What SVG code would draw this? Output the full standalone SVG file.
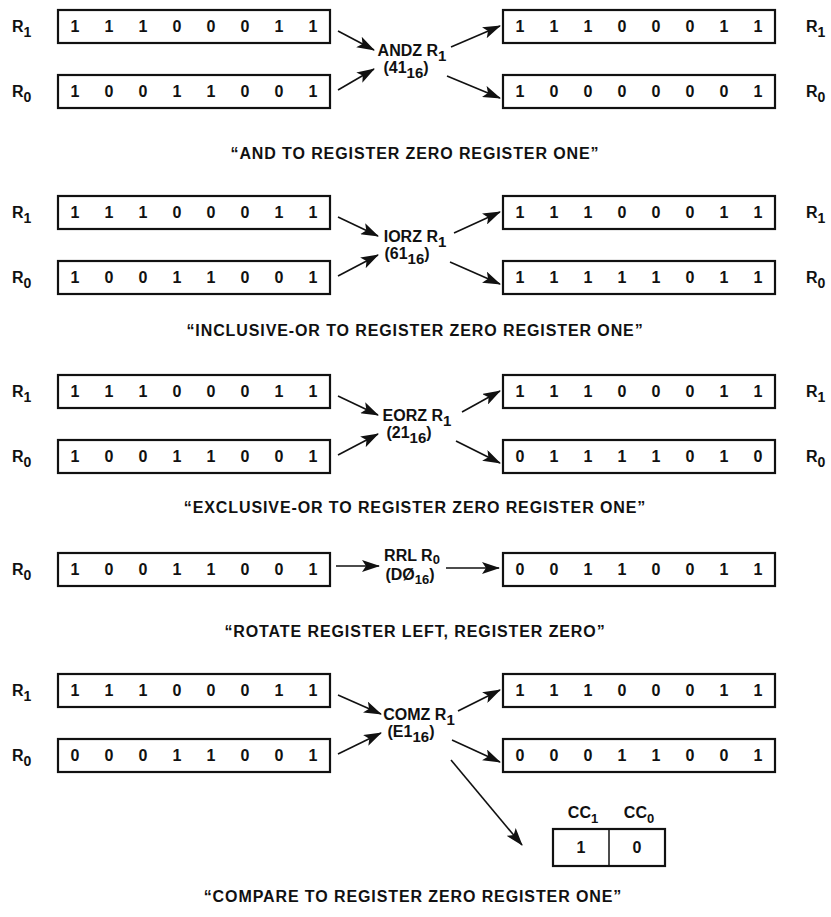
<svg xmlns="http://www.w3.org/2000/svg" width="831" height="917" viewBox="0 0 831 917">
<style>
text{font-family:"Liberation Sans",Arial,sans-serif;font-weight:bold;fill:#111}
.d{font-size:16px;text-anchor:middle}
.l{font-size:16px}
.c{font-size:16px;text-anchor:middle;letter-spacing:0.9px}
.op{font-size:16px;text-anchor:middle}
.box{fill:#fff;stroke:#111;stroke-width:2.2}
.ar{stroke:#111;stroke-width:1.6;fill:none;marker-end:url(#ah)}
</style>
<defs>
<marker id="ah" viewBox="0 0 18 12" refX="17" refY="6" markerWidth="18" markerHeight="12" markerUnits="userSpaceOnUse" orient="auto">
<path d="M0,0 L18,6 L0,12 L4,6 Z" fill="#111"/>
</marker>
</defs>
<rect width="831" height="917" fill="#fff"/>

<!-- Section 1 ANDZ -->
<g id="and" transform="translate(0,0)">
<g id="and-l-r1"><text class="l" x="12" y="32">R<tspan font-size="14" dy="5">1</tspan></text>
<rect class="box" x="58" y="10" width="272" height="33"/>
<text class="d" y="32"><tspan x="75">1</tspan><tspan x="109">1</tspan><tspan x="143">1</tspan><tspan x="177">0</tspan><tspan x="211">0</tspan><tspan x="245">0</tspan><tspan x="279">1</tspan><tspan x="313">1</tspan></text></g>
<g id="and-l-r0"><text class="l" x="12" y="97">R<tspan font-size="14" dy="5">0</tspan></text>
<rect class="box" x="58" y="75" width="272" height="33"/>
<text class="d" y="97"><tspan x="75">1</tspan><tspan x="109">0</tspan><tspan x="143">0</tspan><tspan x="177">1</tspan><tspan x="211">1</tspan><tspan x="245">0</tspan><tspan x="279">0</tspan><tspan x="313">1</tspan></text></g>
<g id="and-op"><text class="op" x="412" y="56">ANDZ R<tspan font-size="15" dy="5">1</tspan></text>
<text class="op" x="406" y="73">(41<tspan font-size="15" dy="5">16</tspan><tspan dy="-5">)</tspan></text></g>
<g id="and-r-r1"><rect class="box" x="503" y="10" width="272" height="33"/>
<text class="d" y="32"><tspan x="520">1</tspan><tspan x="554">1</tspan><tspan x="588">1</tspan><tspan x="622">0</tspan><tspan x="656">0</tspan><tspan x="690">0</tspan><tspan x="724">1</tspan><tspan x="758">1</tspan></text>
<text class="l" x="806" y="32">R<tspan font-size="14" dy="5">1</tspan></text></g>
<g id="and-r-r0"><rect class="box" x="503" y="75" width="272" height="33"/>
<text class="d" y="97"><tspan x="520">1</tspan><tspan x="554">0</tspan><tspan x="588">0</tspan><tspan x="622">0</tspan><tspan x="656">0</tspan><tspan x="690">0</tspan><tspan x="724">0</tspan><tspan x="758">1</tspan></text>
<text class="l" x="806" y="97">R<tspan font-size="14" dy="5">0</tspan></text></g>
<g id="and-conn">
<line class="ar" x1="338" y1="31" x2="374" y2="50"/>
<line class="ar" x1="338" y1="90" x2="374" y2="69"/>
<line class="ar" x1="451" y1="47" x2="500" y2="26"/>
<line class="ar" x1="447" y1="76" x2="500" y2="98"/>
</g>
<text class="c" x="415" y="159">“AND TO REGISTER ZERO REGISTER ONE”</text>
</g>

<!-- Section 2 IORZ -->
<g id="ior" transform="translate(0,186)">
<g id="ior-l-r1"><text class="l" x="12" y="32">R<tspan font-size="14" dy="5">1</tspan></text>
<rect class="box" x="58" y="10" width="272" height="33"/>
<text class="d" y="32"><tspan x="75">1</tspan><tspan x="109">1</tspan><tspan x="143">1</tspan><tspan x="177">0</tspan><tspan x="211">0</tspan><tspan x="245">0</tspan><tspan x="279">1</tspan><tspan x="313">1</tspan></text></g>
<g id="ior-l-r0"><text class="l" x="12" y="97">R<tspan font-size="14" dy="5">0</tspan></text>
<rect class="box" x="58" y="75" width="272" height="33"/>
<text class="d" y="97"><tspan x="75">1</tspan><tspan x="109">0</tspan><tspan x="143">0</tspan><tspan x="177">1</tspan><tspan x="211">1</tspan><tspan x="245">0</tspan><tspan x="279">0</tspan><tspan x="313">1</tspan></text></g>
<g id="ior-op"><text class="op" x="415" y="56">IORZ R<tspan font-size="15" dy="5">1</tspan></text>
<text class="op" x="407" y="73">(61<tspan font-size="15" dy="5">16</tspan><tspan dy="-5">)</tspan></text></g>
<g id="ior-r-r1"><rect class="box" x="503" y="10" width="272" height="33"/>
<text class="d" y="32"><tspan x="520">1</tspan><tspan x="554">1</tspan><tspan x="588">1</tspan><tspan x="622">0</tspan><tspan x="656">0</tspan><tspan x="690">0</tspan><tspan x="724">1</tspan><tspan x="758">1</tspan></text>
<text class="l" x="806" y="32">R<tspan font-size="14" dy="5">1</tspan></text></g>
<g id="ior-r-r0"><rect class="box" x="503" y="75" width="272" height="33"/>
<text class="d" y="97"><tspan x="520">1</tspan><tspan x="554">1</tspan><tspan x="588">1</tspan><tspan x="622">1</tspan><tspan x="656">1</tspan><tspan x="690">0</tspan><tspan x="724">1</tspan><tspan x="758">1</tspan></text>
<text class="l" x="806" y="97">R<tspan font-size="14" dy="5">0</tspan></text></g>
<g id="ior-conn">
<line class="ar" x1="338" y1="31" x2="378" y2="50"/>
<line class="ar" x1="338" y1="90" x2="378" y2="69"/>
<line class="ar" x1="454" y1="47" x2="500" y2="26"/>
<line class="ar" x1="450" y1="76" x2="500" y2="98"/>
</g>
<text class="c" x="415" y="150">“INCLUSIVE-OR TO REGISTER ZERO REGISTER ONE”</text>
</g>

<!-- Section 3 EORZ -->
<g id="eor" transform="translate(0,365)">
<g id="eor-l-r1"><text class="l" x="12" y="32">R<tspan font-size="14" dy="5">1</tspan></text>
<rect class="box" x="58" y="10" width="272" height="33"/>
<text class="d" y="32"><tspan x="75">1</tspan><tspan x="109">1</tspan><tspan x="143">1</tspan><tspan x="177">0</tspan><tspan x="211">0</tspan><tspan x="245">0</tspan><tspan x="279">1</tspan><tspan x="313">1</tspan></text></g>
<g id="eor-l-r0"><text class="l" x="12" y="97">R<tspan font-size="14" dy="5">0</tspan></text>
<rect class="box" x="58" y="75" width="272" height="33"/>
<text class="d" y="97"><tspan x="75">1</tspan><tspan x="109">0</tspan><tspan x="143">0</tspan><tspan x="177">1</tspan><tspan x="211">1</tspan><tspan x="245">0</tspan><tspan x="279">0</tspan><tspan x="313">1</tspan></text></g>
<g id="eor-op"><text class="op" x="417" y="56">EORZ R<tspan font-size="15" dy="5">1</tspan></text>
<text class="op" x="409" y="73">(21<tspan font-size="15" dy="5">16</tspan><tspan dy="-5">)</tspan></text></g>
<g id="eor-r-r1"><rect class="box" x="503" y="10" width="272" height="33"/>
<text class="d" y="32"><tspan x="520">1</tspan><tspan x="554">1</tspan><tspan x="588">1</tspan><tspan x="622">0</tspan><tspan x="656">0</tspan><tspan x="690">0</tspan><tspan x="724">1</tspan><tspan x="758">1</tspan></text>
<text class="l" x="806" y="32">R<tspan font-size="14" dy="5">1</tspan></text></g>
<g id="eor-r-r0"><rect class="box" x="503" y="75" width="272" height="33"/>
<text class="d" y="97"><tspan x="520">0</tspan><tspan x="554">1</tspan><tspan x="588">1</tspan><tspan x="622">1</tspan><tspan x="656">1</tspan><tspan x="690">0</tspan><tspan x="724">1</tspan><tspan x="758">0</tspan></text>
<text class="l" x="806" y="97">R<tspan font-size="14" dy="5">0</tspan></text></g>
<g id="eor-conn">
<line class="ar" x1="338" y1="31" x2="378" y2="50"/>
<line class="ar" x1="338" y1="90" x2="378" y2="69"/>
<line class="ar" x1="462" y1="47" x2="500" y2="26"/>
<line class="ar" x1="456" y1="76" x2="500" y2="98"/>
</g>
<text class="c" x="415" y="148">“EXCLUSIVE-OR TO REGISTER ZERO REGISTER ONE”</text>
</g>

<!-- Section 4 RRL -->
<g id="rrl">
<g id="rrl-l-r0"><text class="l" x="12" y="575">R<tspan font-size="14" dy="5">0</tspan></text>
<rect class="box" x="58" y="553" width="272" height="33"/>
<text class="d" y="575"><tspan x="75">1</tspan><tspan x="109">0</tspan><tspan x="143">0</tspan><tspan x="177">1</tspan><tspan x="211">1</tspan><tspan x="245">0</tspan><tspan x="279">0</tspan><tspan x="313">1</tspan></text></g>
<g id="rrl-op"><text class="op" x="412" y="561" font-size="14">RRL R<tspan font-size="13" dy="3">0</tspan></text>
<text class="op" x="410" y="580" font-size="14">(DØ<tspan font-size="13" dy="4">16</tspan><tspan dy="-4">)</tspan></text></g>
<g id="rrl-r-r0"><rect class="box" x="503" y="553" width="272" height="33"/>
<text class="d" y="575"><tspan x="520">0</tspan><tspan x="554">0</tspan><tspan x="588">1</tspan><tspan x="622">1</tspan><tspan x="656">0</tspan><tspan x="690">0</tspan><tspan x="724">1</tspan><tspan x="758">1</tspan></text></g>
<g id="rrl-conn">
<line class="ar" x1="336" y1="566" x2="379" y2="566"/>
<line class="ar" x1="446" y1="568" x2="499" y2="568"/>
</g>
<text class="c" x="415" y="637">“ROTATE REGISTER LEFT, REGISTER ZERO”</text>
</g>

<!-- Section 5 COMZ -->
<g id="com" transform="translate(0,664)">
<g id="com-l-r1"><text class="l" x="12" y="32">R<tspan font-size="14" dy="5">1</tspan></text>
<rect class="box" x="58" y="10" width="272" height="33"/>
<text class="d" y="32"><tspan x="75">1</tspan><tspan x="109">1</tspan><tspan x="143">1</tspan><tspan x="177">0</tspan><tspan x="211">0</tspan><tspan x="245">0</tspan><tspan x="279">1</tspan><tspan x="313">1</tspan></text></g>
<g id="com-l-r0"><text class="l" x="12" y="97">R<tspan font-size="14" dy="5">0</tspan></text>
<rect class="box" x="58" y="75" width="272" height="33"/>
<text class="d" y="97"><tspan x="75">0</tspan><tspan x="109">0</tspan><tspan x="143">0</tspan><tspan x="177">1</tspan><tspan x="211">1</tspan><tspan x="245">0</tspan><tspan x="279">0</tspan><tspan x="313">1</tspan></text></g>
<g id="com-op"><text class="op" x="419" y="56">COMZ R<tspan font-size="15" dy="5">1</tspan></text>
<text class="op" x="411" y="73">(E1<tspan font-size="15" dy="5">16</tspan><tspan dy="-5">)</tspan></text></g>
<g id="com-r-r1"><rect class="box" x="503" y="10" width="272" height="33"/>
<text class="d" y="32"><tspan x="520">1</tspan><tspan x="554">1</tspan><tspan x="588">1</tspan><tspan x="622">0</tspan><tspan x="656">0</tspan><tspan x="690">0</tspan><tspan x="724">1</tspan><tspan x="758">1</tspan></text></g>
<g id="com-r-r0"><rect class="box" x="503" y="75" width="272" height="33"/>
<text class="d" y="97"><tspan x="520">0</tspan><tspan x="554">0</tspan><tspan x="588">0</tspan><tspan x="622">1</tspan><tspan x="656">1</tspan><tspan x="690">0</tspan><tspan x="724">0</tspan><tspan x="758">1</tspan></text></g>
<g id="com-cc">
<text class="d" x="583" y="154" font-size="15">CC<tspan font-size="13" dy="5">1</tspan></text>
<text class="d" x="639" y="154" font-size="15">CC<tspan font-size="13" dy="5">0</tspan></text>
<rect class="box" x="553" y="165" width="112" height="37"/>
<line x1="609" y1="165" x2="609" y2="202" stroke="#111" stroke-width="1.5"/>
<text class="d" x="581" y="189">1</text>
<text class="d" x="637" y="189">0</text>
</g>
<g id="com-conn">
<line class="ar" x1="338" y1="31" x2="381" y2="50"/>
<line class="ar" x1="338" y1="90" x2="381" y2="69"/>
<line class="ar" x1="458" y1="47" x2="500" y2="26"/>
<line class="ar" x1="452" y1="76" x2="500" y2="98"/>
<line class="ar" x1="451" y1="96" x2="522" y2="181"/>
</g>
<text class="c" x="413" y="238">“COMPARE TO REGISTER ZERO REGISTER ONE”</text>
</g>
</svg>
